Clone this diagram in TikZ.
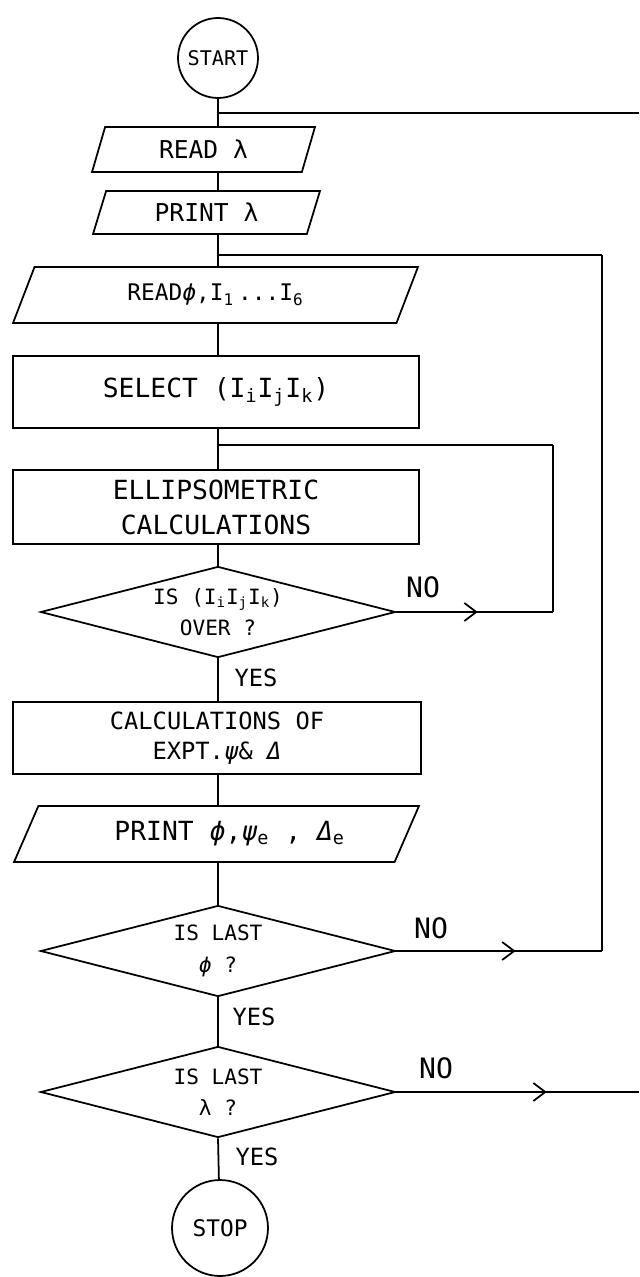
\documentclass[tikz,border=0pt]{standalone}
\usepackage{fontspec}
\setmainfont{DejaVu Sans Mono}
\usetikzlibrary{shapes.geometric,arrows.meta,decorations.markings,calc}

\begin{document}
\begin{tikzpicture}[
    x=0.02cm, y=-0.02cm,
    line width=1pt,
    terminal/.style={circle, draw, inner sep=0pt},
    procbox/.style={rectangle, draw, minimum width=8.12cm, minimum height=1.44cm, align=center, font=\fontsize{15}{20}\selectfont},
    iobox/.style={trapezium, draw, trapezium stretches body, inner sep=2pt, align=center},
    decision/.style={diamond, draw, aspect=3.9, inner sep=0pt, minimum width=7.1cm, minimum height=1.82cm, align=center, font=\fontsize{12}{18}\selectfont},
    yeslbl/.style={inner sep=0pt, font=\fontsize{13.5}{15}\selectfont},
    nolbl/.style={inner sep=0pt, font=\fontsize{16}{18}\selectfont},
    midarrow/.style={postaction={decorate}, decoration={markings, mark=at position #1 with {\arrow{Straight Barb[length=2.4mm,width=3.6mm]}}}}
]
\useasboundingbox (0,0) rectangle (639,1277);

% Terminals
\node[terminal, minimum size=1.6cm, font=\fontsize{11.5}{13}\selectfont] (start) at (218,58) {START};
\node[terminal, minimum size=1.92cm, font=\fontsize{13}{15}\selectfont] (stop) at (220,1228) {STOP};

% Wavelength loop
\node[iobox, trapezium left angle=63, trapezium right angle=117, minimum width=4.46cm, minimum height=0.9cm, font=\fontsize{14}{16}\selectfont] (readlam) at (203.5,149.5) {READ λ};
\node[iobox, trapezium left angle=63, trapezium right angle=117, minimum width=4.54cm, minimum height=0.86cm, font=\fontsize{14}{16}\selectfont] (printlam) at (206.5,212.5) {PRINT λ};

% Angle loop
\node[iobox, trapezium left angle=53, trapezium right angle=127, minimum width=8.1cm, minimum height=1.12cm, font=\fontsize{13}{15}\selectfont] (readphi) at (215.5,295) {READ\textit{ϕ},I\textsubscript{1}\,...I\textsubscript{6}};
\node[procbox] (select) at (216,392) {SELECT (I\textsubscript{i}I\textsubscript{j}I\textsubscript{k})};
\node[procbox, minimum height=1.48cm] (ellips) at (216,507) {ELLIPSOMETRIC\\CALCULATIONS};
\node[decision] (overq) at (218,612) {IS (I\textsubscript{i}I\textsubscript{j}I\textsubscript{k})\\OVER ?};
\node[procbox, minimum width=8.16cm, font=\fontsize{13.5}{17}\selectfont] (calc) at (217,738) {CALCULATIONS OF\\EXPT.\textit{ψ}\& \textit{Δ}};
\node[iobox, trapezium left angle=52.5, trapezium right angle=127.5, minimum width=8.1cm, minimum height=1.12cm, font=\fontsize{15}{17}\selectfont] (printphi) at (216.5,834) {\hspace{1em}PRINT \textit{ϕ},\textit{ψ}\textsubscript{e} , \textit{Δ}\textsubscript{e}};
\node[decision] (lastphi) at (218,951) {IS LAST\\\textit{ϕ} ?};
\node[decision] (lastlam) at (218,1092) {IS LAST\\λ ?};

% Labels
\node[yeslbl] (yesover) at (256,678) {YES};
\node[yeslbl] (yesphi) at (254,1017) {YES};
\node[yeslbl] (yeslam) at (257,1157) {YES};
\node[nolbl] (noover) at (423,587) {NO};
\node[nolbl] (nophi) at (431,928) {NO};
\node[nolbl] (nolam) at (436,1068) {NO};

% Loop junctions
\coordinate (lamin) at (218,113);
\coordinate (lamout) at (639,113);
\coordinate (phiin) at (218,255);
\coordinate (phitop) at (602,255);
\coordinate (selin) at (218,445);
\coordinate (seltop) at (553,445);

% Main flow
\draw (start) -- (start |- readlam.north);
\draw (readlam.south -| start) -- (printlam.north -| start);
\draw (printlam.south -| start) -- (readphi.north -| start);
\draw (readphi.south -| start) -- (select.north -| start);
\draw (select.south -| start) -- (ellips.north -| start);
\draw (ellips.south -| start) -- (overq.north);
\draw (overq.south) -- (calc.north -| overq);
\draw (calc.south -| start) -- (printphi.north -| start);
\draw (printphi.south -| start) -- (lastphi.north);
\draw (lastphi.south) -- (lastlam.north);
\draw (lastlam.south) -- (stop);

% Loops back
\draw (lamin) -- (lamout);
\draw (phiin) -- (phitop);
\draw (selin) -- (seltop);
\draw[midarrow=0.52] (overq.east) -- (overq.east -| seltop);
\draw (overq.east -| seltop) -- (seltop);
\draw[midarrow=0.58] (lastphi.east) -- (lastphi.east -| phitop);
\draw (lastphi.east -| phitop) -- (phitop);
\draw[midarrow=0.62] (lastlam.east) -- (lastlam.east -| lamout);

\end{tikzpicture}
\end{document}
